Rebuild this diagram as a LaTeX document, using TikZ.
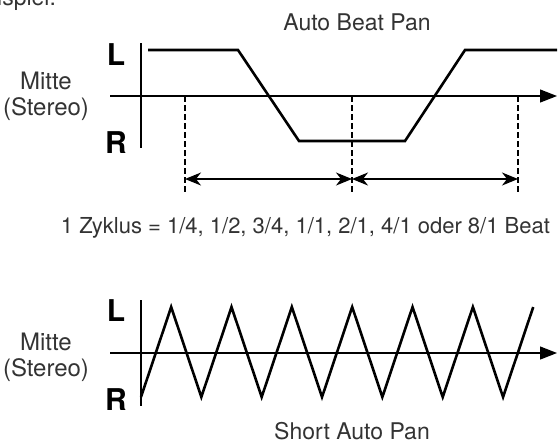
\documentclass[tikz,border=0pt]{standalone}
\usepackage{fontspec}
\setmainfont{TeX Gyre Heros}
\usetikzlibrary{arrows.meta}

\begin{document}
\begin{tikzpicture}[x=0.5pt, y=-0.5pt, font=\fontsize{11.5}{13}\selectfont, text=black!80,
  axis/.style={line width=0.6pt},
  axisarrow/.style={axis, -{Triangle[length=8.5pt, width=6.5pt]}},
  signal/.style={line width=1.3pt, line join=miter},
  marker/.style={line width=0.6pt, dash pattern=on 3pt off 1.5pt},
  span/.style={line width=0.6pt, {Stealth[length=8pt, width=6.5pt, inset=2.5pt]}-{Stealth[length=8pt, width=6.5pt, inset=2.5pt]}},
  side/.style={font=\fontsize{15}{17}\bfseries\selectfont, text=black, inner sep=0pt},
  mid/.style={align=center, inner sep=0pt, font=\fontsize{12}{13}\selectfont}]
\useasboundingbox (0,0) rectangle (560,446);
\node[anchor=base east] (intro) at (63,5) {Beispiel:};
% auto beat pan
\node[anchor=base] (beat) at (357,30) {Auto Beat Pan};
\node[side] (bl) at (116,55) {L};
\node[side] (br) at (116,143) {R};
\node[mid] (bm) at (46,96) {Mitte\\(Stereo)};
\draw[axis] (141,43) -- (141,148);
\draw[axisarrow] (110,96) -- (557,96);
\draw[signal] (148,50) -- (238,50) -- (299,141) -- (405,141) -- (465,50) -- (557,50);
\foreach \x [count=\i] in {185,352,518} {
  \coordinate (t\i) at (\x,96); \coordinate (s\i) at (\x,179);
  \draw[marker] (t\i) -- ++(0,97);
}
\draw[span] (s1) -- (s2); \draw[span] (s2) -- (s3);
\node[anchor=base east, font=\fontsize{11}{13}\selectfont] (cycle) at (557,233) {1 Zyklus = 1/4, 1/2, 3/4, 1/1, 2/1, 4/1 oder 8/1 Beat};
% short auto pan
\node[side] (sl) at (116,311) {L};
\node[side] (sr) at (116,400) {R};
\node[mid] (sm) at (46,357) {Mitte\\(Stereo)};
\draw[axis] (141,300) -- (141,406);
\draw[axisarrow] (110,353) -- (557,353);
\draw[signal] (141,397) \foreach \k in {1,...,13} { -- ({141+30.17*\k},{352+45*cos(180*\k)}) };
\node[anchor=base] (short) at (352,439) {Short Auto Pan};
\end{tikzpicture}
\end{document}
